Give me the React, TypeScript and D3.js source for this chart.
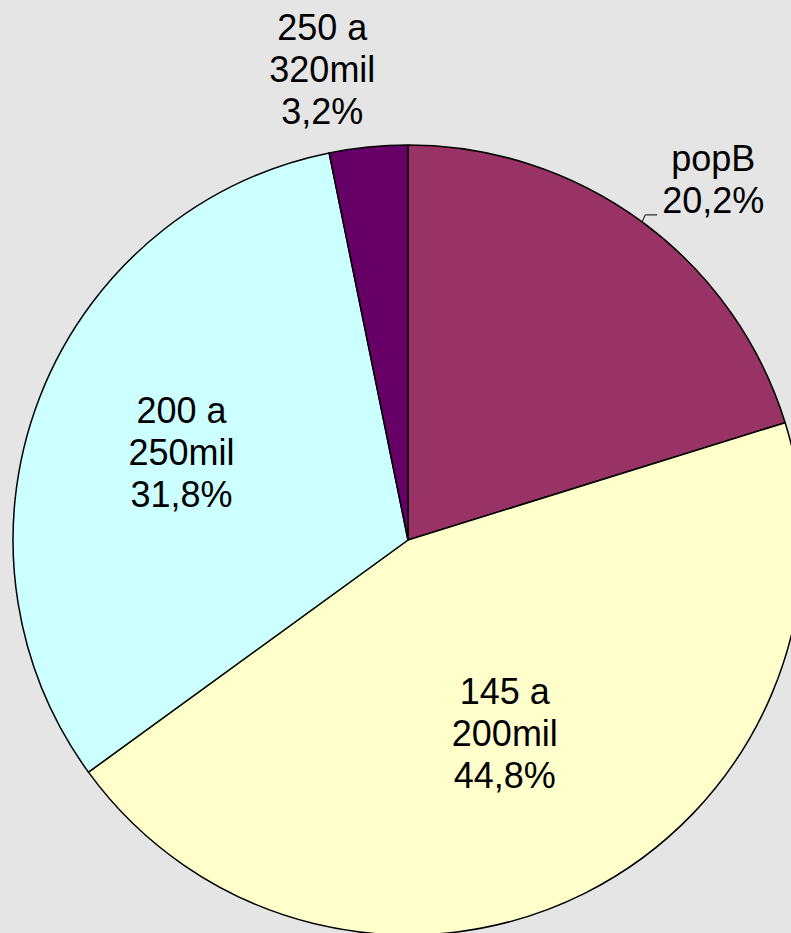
import React, { useEffect, useRef } from "react";
import * as d3 from "d3";

const categories = ["popB", "145 a\n200mil", "200 a\n250mil", "250 a\n320mil"];
const shares = [20.2, 44.8, 31.8, 3.2];
const percentLabels = ["20,2%", "44,8%", "31,8%", "3,2%"];
const colors = ["#993366", "#ffffcc", "#ccffff", "#660066"];

const App = () => {
  const ref = useRef<SVGSVGElement>(null);

  useEffect(() => {
    const width = 791;
    const height = 933;
    const cx = 408;
    const cy = 540;
    const radius = 395;
    const fontSize = 36;
    const lineH = 42;

    const svg = d3.select(ref.current).attr("width", width).attr("height", height);
    svg.selectAll("*").remove();

    svg.append("rect").attr("width", width).attr("height", height).attr("fill", "#e5e5e5");

    const data = categories.map((c, i) => ({ name: c, value: shares[i], pct: percentLabels[i], color: colors[i] }));

    const pie = d3.pie<any>().sort(null).value(d => d.value);
    const arcs = pie(data);
    const arc = d3.arc<any>().innerRadius(0).outerRadius(radius);

    const g = svg.append("g").attr("transform", `translate(${cx},${cy})`);

    g.selectAll("path")
      .data(arcs)
      .enter()
      .append("path")
      .attr("d", arc)
      .attr("fill", d => d.data.color)
      .attr("stroke", "#000")
      .attr("stroke-width", 1.5)
      .attr("stroke-linejoin", "round");

    // label placement (inside labels at a centroid radius, outside ones beside the rim)
    const layout: Record<string, { mode: string; r?: number; dx?: number; dy?: number }> = {
      "popB": { mode: "leader", dx: 20, dy: -9 },
      "145 a\n200mil": { mode: "inside", r: 216 },
      "200 a\n250mil": { mode: "inside", r: 243 },
      "250 a\n320mil": { mode: "top", dx: -46, dy: -23 },
    };

    const labels = svg.append("g")
      .attr("font-family", "'Liberation Sans', Arial, sans-serif")
      .attr("font-size", fontSize)
      .attr("fill", "#000");

    arcs.forEach(a => {
      const lines = [...a.data.name.split("\n"), a.data.pct];
      const mid = (a.startAngle + a.endAngle) / 2;
      const L = layout[a.data.name];
      const px = (r: number) => cx + r * Math.sin(mid);
      const py = (r: number) => cy - r * Math.cos(mid);

      if (L.mode === "inside") {
        const x = px(L.r!);
        const y = py(L.r!);
        const firstBase = y + fontSize * 0.35 - ((lines.length - 1) / 2) * lineH;
        lines.forEach((t, k) => {
          labels.append("text").attr("x", x).attr("y", firstBase + k * lineH)
            .attr("text-anchor", "middle").text(t);
        });
      } else if (L.mode === "leader") {
        const ax = px(radius);
        const ay = py(radius);
        svg.append("path")
          .attr("d", `M${ax},${ay}L${ax + 3},${ay - 7}L${ax + 15},${ay - 7}`)
          .attr("fill", "none").attr("stroke", "#000").attr("stroke-width", 1);
        const lastBase = ay + L.dy!;
        const t = labels.append("text").attr("text-anchor", "middle");
        const tmp = labels.append("text").text(lines.reduce((m, s) => (s.length > m.length ? s : m), ""));
        const w = (tmp.node() as SVGTextElement).getComputedTextLength();
        tmp.remove();
        t.remove();
        const x = ax + L.dx! + w / 2;
        lines.forEach((s, k) => {
          labels.append("text").attr("x", x).attr("y", lastBase - (lines.length - 1 - k) * lineH)
            .attr("text-anchor", "middle").text(s);
        });
      } else {
        const ax = px(radius);
        const ay = py(radius);
        const x = ax + L.dx!;
        const lastBase = ay + L.dy!;
        lines.forEach((s, k) => {
          labels.append("text").attr("x", x).attr("y", lastBase - (lines.length - 1 - k) * lineH)
            .attr("text-anchor", "middle").text(s);
        });
      }
    });
  }, []);

  return <svg ref={ref} style={{ position: "absolute", left: 0, top: 0, display: "block" }}></svg>;
};

export default App;
